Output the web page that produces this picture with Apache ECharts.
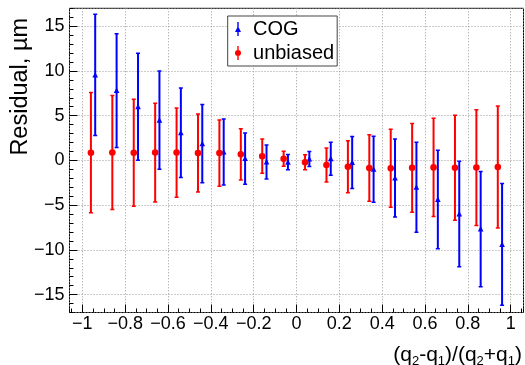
<!DOCTYPE html>
<html>
<head>
<meta charset="utf-8">
<script src="https://cdn.jsdelivr.net/npm/echarts@6/dist/echarts.min.js"></script>
<style>
html,body{margin:0;padding:0;background:#fff;}
#chart{width:525px;height:365px;}
</style>
</head>
<body>
<div id="chart"></div>
<script>
// ---- data ----
var seriesNames = ['COG', 'unbiased'];
var cogX   = [-0.94,-0.84,-0.74,-0.64,-0.54,-0.44,-0.34,-0.24,-0.14,-0.04,0.06,0.16,0.26,0.36,0.46,0.56,0.66,0.76,0.86,0.96];
var cogY   = [9.55,7.8,6.0,4.5,3.1,1.87,0.94,0.2,-0.19,-0.2,0.15,0.18,-0.23,-0.99,-1.97,-3.0,-4.37,-5.99,-7.68,-9.39];
var cogErr = [6.78,6.35,5.97,5.5,5.0,4.38,3.7,2.87,1.9,0.85,0.84,1.84,2.9,3.68,4.37,5.03,5.5,5.89,6.43,6.8];
var unbX   = [-0.96,-0.86,-0.76,-0.66,-0.56,-0.46,-0.36,-0.26,-0.16,-0.06,0.04,0.14,0.24,0.34,0.44,0.54,0.64,0.74,0.84,0.94];
var unbY   = [0.86,0.87,0.86,0.88,0.87,0.83,0.82,0.68,0.47,0.18,-0.2,-0.52,-0.71,-0.85,-0.88,-0.83,-0.78,-0.83,-0.8,-0.73];
var unbErr = [6.72,6.37,5.98,5.52,4.98,4.35,3.7,2.87,1.92,0.83,0.84,1.9,2.9,3.72,4.37,4.96,5.48,5.87,6.47,6.82];
var xRange = [-1.06, 1.06];
var yRange = [-17, 17];
var xTitle = '(q{s|2}-q{s|1})/(q{s|2}+q{s|1})';
var yTitle = 'Residual, \u00b5m';

function zip(xs, ys, es) {
  return xs.map(function (x, i) { return [x, ys[i], es[i]]; });
}
function fmt(v) {
  var s = String(Math.round(v * 100) / 100);
  return s.charAt(0) === '-' ? '\u2212' + s.slice(1) : s;
}
var FONT = 'Liberation Sans, Arial, Helvetica, sans-serif';

function makeRender(color, marker) {
  return function (params, api) {
    var x = api.value(0), y = api.value(1), e = api.value(2);
    var pt = api.coord([x, y]);
    var top = api.coord([x, y + e]);
    var bot = api.coord([x, y - e]);
    var cw = 2;
    var children = [
      {type: 'line', shape: {x1: pt[0], y1: top[1], x2: pt[0], y2: bot[1]}, style: {stroke: color, lineWidth: 2}},
      {type: 'line', shape: {x1: pt[0] - cw, y1: top[1], x2: pt[0] + cw, y2: top[1]}, style: {stroke: color, lineWidth: 1.5}},
      {type: 'line', shape: {x1: pt[0] - cw, y1: bot[1], x2: pt[0] + cw, y2: bot[1]}, style: {stroke: color, lineWidth: 1.5}}
    ];
    if (marker === 'circle') {
      children.push({type: 'circle', shape: {cx: pt[0], cy: pt[1], r: 3.3}, style: {fill: color}});
    } else {
      children.push({type: 'polygon', shape: {points: [[pt[0] - 2.8, pt[1] + 2.5], [pt[0] + 2.8, pt[1] + 2.5], [pt[0], pt[1] - 3]]}, style: {fill: color}});
    }
    return {type: 'group', children: children};
  };
}

var chart = echarts.init(document.getElementById('chart'), null, {renderer: 'canvas'});
var axisCommonX = {type: 'value', min: xRange[0], max: xRange[1], position: 'bottom', axisLine: {show: false, onZero: false}};
var axisCommonY = {type: 'value', min: yRange[0], max: yRange[1], position: 'left', axisLine: {show: false, onZero: false}};
chart.setOption({
  animation: false,
  backgroundColor: '#fff',
  grid: {left: 69.5, right: 1.5, top: 8.3, bottom: 52.5, show: true, borderColor: '#000', borderWidth: 1, backgroundColor: '#fff'},
  xAxis: [
    Object.assign({}, axisCommonX, {
      splitNumber: 10,
      axisTick: {show: true, inside: true, length: 8, lineStyle: {color: '#000', width: 1}},
      axisLabel: {show: true, margin: 3, fontSize: 18, fontFamily: FONT, color: '#000', showMinLabel: false, showMaxLabel: false, formatter: fmt},
      splitLine: {show: true, lineStyle: {color: '#999', width: 1, type: [1, 2]}}
    }),
    Object.assign({}, axisCommonX, {
      splitNumber: 42,
      axisTick: {show: true, inside: true, length: 4, lineStyle: {color: '#000', width: 1}},
      axisLabel: {show: false},
      splitLine: {show: false}
    })
  ],
  yAxis: [
    Object.assign({}, axisCommonY, {
      splitNumber: 7,
      axisTick: {show: true, inside: true, length: 8, lineStyle: {color: '#000', width: 1}},
      axisLabel: {show: true, margin: 5, fontSize: 18, fontFamily: FONT, color: '#000', showMinLabel: false, showMaxLabel: false, formatter: fmt},
      splitLine: {show: true, lineStyle: {color: '#999', width: 1, type: [1, 2]}}
    }),
    Object.assign({}, axisCommonY, {
      splitNumber: 34,
      axisTick: {show: true, inside: true, length: 4, lineStyle: {color: '#000', width: 1}},
      axisLabel: {show: false},
      splitLine: {show: false}
    })
  ],
  legend: {
    orient: 'vertical', left: 227.7, top: 16,
    padding: [3, 3, 3, 7.3],
    itemGap: 4, itemWidth: 10, itemHeight: 14,
    backgroundColor: '#fff', borderColor: '#444', borderWidth: 1,
    textStyle: {fontSize: 20, fontFamily: FONT, color: '#000', padding: [0, 0, 0, 5]},
    data: [
      {name: seriesNames[0], icon: 'path://M4.3,0H5.7V14H4.3Z M2,10L5,4L8,10Z', itemStyle: {color: '#0000ff'}},
      {name: seriesNames[1], icon: 'path://M4.3,0H5.7V14H4.3Z M5,4A3,3 0 1 1 4.99,4Z M2,7H8V7.01H2Z', itemStyle: {color: '#ff0000'}}
    ]
  },
  graphic: [
    {type: 'text', x: 21, y: 18, rotation: Math.PI / 2,
      style: {text: yTitle, fontSize: 23.5, fontFamily: FONT, fill: '#000', align: 'right', verticalAlign: 'middle'}},
    {type: 'text', x: 522, y: 342.5,
      style: {text: xTitle, fontSize: 21, fontFamily: FONT, fill: '#000', align: 'right', verticalAlign: 'top',
        rich: {s: {fontSize: 13, fontFamily: FONT, fill: '#000', verticalAlign: 'bottom', padding: [12, 0, 0, 0]}}}}
  ],
  series: [
    {name: seriesNames[0], type: 'custom', xAxisIndex: 0, yAxisIndex: 0, renderItem: makeRender('#0000ff', 'triangle'),
      encode: {x: 0, y: 1}, data: zip(cogX, cogY, cogErr), itemStyle: {color: '#0000ff'}, clip: true},
    {name: seriesNames[1], type: 'custom', xAxisIndex: 0, yAxisIndex: 0, renderItem: makeRender('#ff0000', 'circle'),
      encode: {x: 0, y: 1}, data: zip(unbX, unbY, unbErr), itemStyle: {color: '#ff0000'}, clip: true}
  ]
});
</script>
</body>
</html>
